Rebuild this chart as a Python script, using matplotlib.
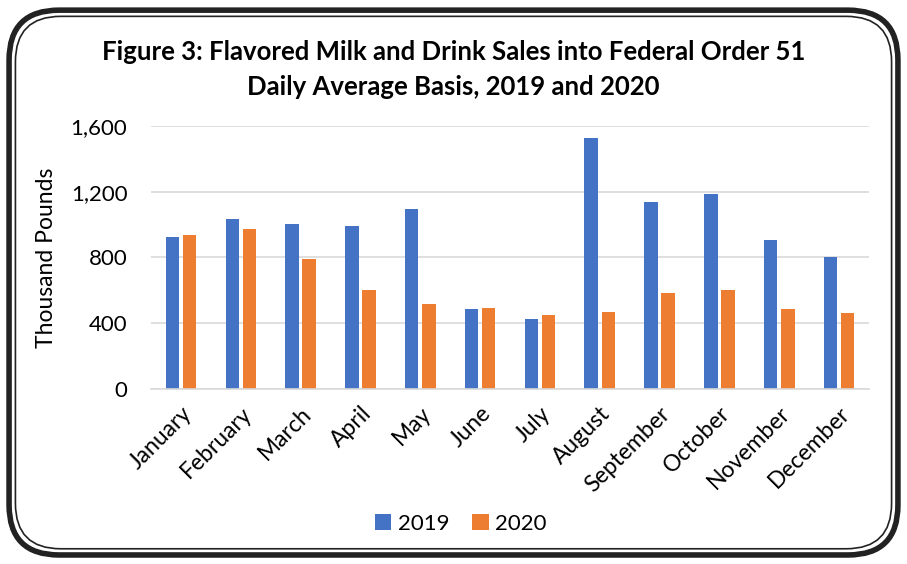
import matplotlib
matplotlib.use("Agg")
import matplotlib.pyplot as plt
import numpy as np
from matplotlib.patches import FancyBboxPatch

months = ['January', 'February', 'March', 'April', 'May', 'June', 'July',
          'August', 'September', 'October', 'November', 'December']
sales_2019 = [924, 1033, 1003, 994, 1094, 486, 423, 1529, 1140, 1185, 909, 802]
sales_2020 = [938, 974, 792, 602, 515, 494, 452, 468, 583, 602, 486, 460]
yticks = [0, 400, 800, 1200, 1600]
ytick_labels = ['0', '400', '800', '1,200', '1,600']

plt.rcParams['font.family'] = ['Lato', 'DejaVu Sans']

fig = plt.figure(figsize=(9.07, 5.64), dpi=100)
ax = fig.add_axes([0.1665, 0.3103, 0.7916, 0.4663])

x = np.arange(len(months))
w = 0.225
gap = 0.06
ax.bar(x - (w + gap) / 2, sales_2019, width=w, color='#4472C4', label='2019')
ax.bar(x + (w + gap) / 2, sales_2020, width=w, color='#ED7D31', label='2020')

ax.set_xlim(-0.5, len(months) - 0.5)
ax.set_ylim(0, 1600)
ax.set_yticks(yticks)
ax.set_yticklabels(ytick_labels)
ax.yaxis.grid(True, color='#D9D9D9', linewidth=1.2)
ax.set_axisbelow(True)
for s in ['top', 'right', 'left']:
    ax.spines[s].set_visible(False)
ax.spines['bottom'].set_color('#D9D9D9')
ax.spines['bottom'].set_linewidth(1.2)

ax.set_xticks(x)
ax.set_xticklabels(months, rotation=45, ha='right', rotation_mode='anchor')
ax.tick_params(axis='x', length=0, pad=10, labelsize=16.5)
ax.tick_params(axis='y', length=0, pad=17, labelsize=16)
ax.set_ylabel('Thousand Pounds', fontsize=16.5, labelpad=10)

fig.text(0.5, 1 - 52 / 564, 'Figure 3: Flavored Milk and Drink Sales into Federal Order 51',
         ha='center', va='center', fontsize=18.5, fontweight='bold')
fig.text(0.5, 1 - 87 / 564, 'Daily Average Basis, 2019 and 2020',
         ha='center', va='center', fontsize=18.5, fontweight='bold')

ax.legend(loc='center', bbox_to_anchor=(0.508, 1 - 524 / 564), bbox_transform=fig.transFigure,
          ncol=2, frameon=False, fontsize=16, handlelength=0.75, handleheight=0.75,
          handletextpad=0.3, columnspacing=1.0)

# rounded double border
outer = FancyBboxPatch((0.010, 0.016), 0.980, 0.966, boxstyle='round,pad=0,rounding_size=0.055',
                       transform=fig.transFigure, fill=False, edgecolor='#222222', linewidth=4,
                       mutation_aspect=907 / 564)
inner = FancyBboxPatch((0.017, 0.027), 0.966, 0.944, boxstyle='round,pad=0,rounding_size=0.05',
                       transform=fig.transFigure, fill=False, edgecolor='#222222', linewidth=1.2,
                       mutation_aspect=907 / 564)
fig.patches.extend([outer, inner])

fig.savefig('out.png', dpi=100)
